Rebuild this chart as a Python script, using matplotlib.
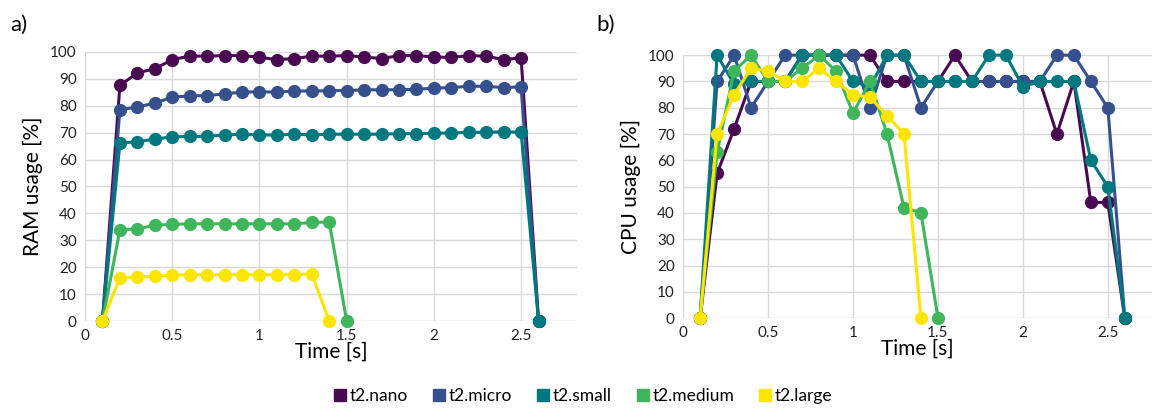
import numpy as np
import matplotlib
matplotlib.use("Agg")
import matplotlib.pyplot as plt
from matplotlib.lines import Line2D

plt.rcParams['font.family'] = ['Lato', 'DejaVu Sans']

# ==============================================================================
# DATA
# ==============================================================================
names  = ["t2.nano", "t2.micro", "t2.small", "t2.medium", "t2.large"]
colors = ["#4a0a52", "#35508c", "#00787f", "#3fb55c", "#fde500"]

t_long  = [round(0.1 * i, 1) for i in range(1, 27)]   # 0.1 .. 2.6
t_med   = [round(0.1 * i, 1) for i in range(1, 16)]   # 0.1 .. 1.5
t_large = [round(0.1 * i, 1) for i in range(1, 15)]   # 0.1 .. 1.4

ram_nano   = [0, 87.5, 92.2, 93.7, 97.1, 98.4, 98.4, 98.6, 98.6, 98.0, 97.1, 97.5, 98.4,
              98.4, 98.6, 98.1, 97.5, 98.6, 98.6, 98.1, 97.9, 98.6, 98.4, 97.1, 97.8, 0]
ram_micro  = [0, 78.5, 79.5, 81.0, 83.1, 83.7, 83.7, 84.4, 85.0, 85.2, 85.0, 85.5, 85.4,
              85.6, 85.6, 85.9, 85.9, 85.9, 86.1, 86.5, 86.7, 87.2, 87.2, 86.7, 87.0, 0]
ram_small  = [0, 66.1, 66.6, 67.6, 68.4, 68.6, 68.6, 69.1, 69.4, 69.1, 69.1, 69.4, 69.1,
              69.4, 69.4, 69.4, 69.4, 69.6, 69.6, 69.7, 69.9, 70.1, 70.1, 70.3, 70.1, 0]
ram_medium = [0, 33.9, 34.2, 35.6, 35.9, 36.1, 36.1, 36.1, 36.1, 36.1, 36.1, 36.1, 36.6, 36.8, 0]
ram_large  = [0, 16.1, 16.3, 16.7, 17.0, 17.2, 17.2, 17.2, 17.2, 17.2, 17.2, 17.2, 17.5, 0]

cpu_nano   = [0, 55, 72, 90, 90, 90, 100, 100, 100, 100, 100, 90, 90,
              90, 90, 100, 90, 90, 90, 90, 90, 70, 90, 44, 44, 0]
cpu_micro  = [0, 90, 100, 80, 90, 100, 100, 100, 100, 100, 80, 100, 100,
              80, 90, 90, 90, 90, 90, 90, 90, 100, 100, 90, 80, 0]
cpu_small  = [0, 100, 89, 90, 90, 90, 100, 100, 100, 90, 88, 100, 100,
              90, 90, 90, 90, 100, 100, 88, 90, 90, 90, 60, 50, 0]
cpu_medium = [0, 63, 94, 100, 90, 90, 95, 100, 94, 78, 90, 70, 42, 40, 0]
cpu_large  = [0, 70, 85, 95, 94, 90, 90, 95, 90, 85, 84, 77, 70, 0]

ram_series = [(t_long, ram_nano), (t_long, ram_micro), (t_long, ram_small),
              (t_med, ram_medium), (t_large, ram_large)]
cpu_series = [(t_long, cpu_nano), (t_long, cpu_micro), (t_long, cpu_small),
              (t_med, cpu_medium), (t_large, cpu_large)]

xticks      = [0, 0.5, 1, 1.5, 2, 2.5]
xticklabels = ["0", "0.5", "1", "1.5", "2", "2.5"]
yticks      = list(range(0, 101, 10))

# ==============================================================================
# FIGURE
# ==============================================================================
fig = plt.figure(figsize=(11.52, 4.18), dpi=100)
ax_ram = fig.add_axes([0.0738, 0.232, 0.427, 0.644])
ax_cpu = fig.add_axes([0.593, 0.239, 0.407, 0.629])


def style_axis(ax, xmax, ylabel):
    ax.set_xlim(0, xmax)
    ax.set_ylim(0, 100)
    ax.set_xticks(xticks)
    ax.set_xticklabels(xticklabels)
    ax.set_yticks(yticks)
    ax.tick_params(length=0, labelsize=11, colors="#222222", pad=6)
    ax.grid(True, color="#d9d9d9", lw=1.0)
    ax.set_axisbelow(True)
    for s in ax.spines.values():
        s.set_visible(False)
    ax.set_xlabel("Time [s]", fontsize=15, labelpad=-1)
    ax.set_ylabel(ylabel, fontsize=15, labelpad=5)


for ax, series in [(ax_ram, ram_series), (ax_cpu, cpu_series)]:
    for (t, v), c in zip(series, colors):
        ax.plot(t, v, color=c, lw=2.2, marker="o", ms=8.5, clip_on=False, zorder=3)

style_axis(ax_ram, 2.82, "RAM usage [%]")
style_axis(ax_cpu, 2.76, "CPU usage [%]")

fig.text(0.009, 0.925, "a)", fontsize=16)
fig.text(0.518, 0.925, "b)", fontsize=16)

handles = [Line2D([], [], ls="none", marker="s", ms=8, color=c) for c in colors]
fig.legend(handles, names, loc="lower center", bbox_to_anchor=(0.505, -0.005),
           ncol=5, frameon=False, fontsize=12.5, handletextpad=0.05,
           columnspacing=1.3, handlelength=1.0)

fig.savefig("out.png", dpi=100)
